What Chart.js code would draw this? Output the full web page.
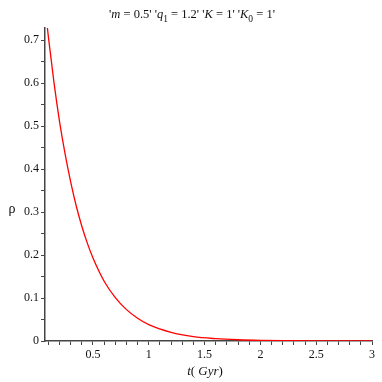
<!DOCTYPE html>
<html>
<head>
<meta charset="utf-8">
<script src="https://cdn.jsdelivr.net/npm/chart.js@4.4.1/dist/chart.umd.min.js"></script>
<style>
  html, body { margin: 0; padding: 0; background: #fff; }
  #wrap { width: 382px; height: 382px; }
</style>
</head>
<body>
<div id="wrap"><canvas id="rho"></canvas></div>
<script>
// values
var times = [0.07, 0.1, 0.15, 0.2, 0.25, 0.3, 0.35, 0.4, 0.45, 0.5, 0.6, 0.7, 0.8, 0.9, 1.0, 1.2, 1.4, 1.6, 1.8, 2.0, 2.25, 2.5, 2.75, 3.0];
var rhoValues = [0.78, 0.708, 0.602, 0.511, 0.435, 0.370, 0.314, 0.267, 0.227, 0.193, 0.139, 0.101, 0.073, 0.053, 0.038, 0.020, 0.010, 0.0054, 0.0029, 0.0015, 0.0007, 0.0003, 0.0001, 0.00006];
var xMajor = [0.5, 1, 1.5, 2, 2.5, 3];
var yMajor = [0, 0.1, 0.2, 0.3, 0.4, 0.5, 0.6, 0.7];

var serif = "'Liberation Serif', 'DejaVu Serif', serif";
var axisColor = "#444";

function isMajor(list, v) {
    return list.some(function (m) { return Math.abs(m - v) < 1e-6; });
}

// title and x label drawn as styled text runs
var titleRuns = [
    ["'", ""], ["m", "i"], [" = 0.5' '", ""], ["q", "i"], ["1", "s"], [" = 1.2' '", ""],
    ["K", "i"], [" = 1' '", ""], ["K", "i"], ["0", "s"], [" = 1'", ""]
];
var xLabelRuns = [["t", "i"], ["( ", ""], ["Gyr", "i"], [")", ""]];

function runFont(style, size) {
    if (style == "i") return "italic " + size + "px " + serif;
    if (style == "s") return (size - 3) + "px " + serif;
    return size + "px " + serif;
}

function drawRuns(ctx, runs, cx, baseline, size) {
    var total = 0;
    runs.forEach(function (r) { ctx.font = runFont(r[1], size); total += ctx.measureText(r[0]).width; });
    var x = cx - total / 2;
    runs.forEach(function (r) {
        ctx.font = runFont(r[1], size);
        ctx.fillText(r[0], x, r[1] == "s" ? baseline + 4 : baseline);
        x += ctx.measureText(r[0]).width;
    });
}

var textPlugin = {
    id: 'mapleText',
    afterDraw: function (chart) {
        var ctx = chart.ctx;
        var area = chart.chartArea;
        ctx.save();
        ctx.fillStyle = "#111";
        ctx.textBaseline = "alphabetic";
        ctx.textAlign = "left";
        drawRuns(ctx, titleRuns, 192, 18, 12.5);
        drawRuns(ctx, xLabelRuns, 205, 375, 13);
        ctx.font = "14px " + serif;
        ctx.textAlign = "center";
        ctx.fillText("\u03c1", 12, 213);
        ctx.restore();
    }
};

new Chart(document.getElementById("rho"), {
    type: 'line',
    data: {
        labels: times,
        datasets: [{
            data: times.map(function (t, i) { return { x: t, y: rhoValues[i] }; }),
            borderColor: "#ff0000",
            borderWidth: 1.3,
            pointRadius: 0,
            fill: false,
            cubicInterpolationMode: 'monotone'
        }]
    },
    options: {
        responsive: true,
        maintainAspectRatio: false,
        animation: false,
        layout: { padding: { top: 28, right: 10, left: 0, bottom: 0 } },
        plugins: {
            legend: { display: false },
            title: { display: false },
            tooltip: { enabled: false }
        },
        scales: {
            x: {
                type: 'linear',
                min: 0.07,
                max: 3,
                afterFit: function (s) { s.height = 41; },
                border: { color: axisColor, width: 1.5 },
                grid: { drawOnChartArea: false, tickLength: 4, color: axisColor, tickWidth: 1 },
                ticks: {
                    stepSize: 0.1,
                    includeBounds: false,
                    autoSkip: false,
                    maxRotation: 0,
                    padding: 3,
                    color: "#111",
                    font: { family: serif, size: 12 },
                    callback: function (v) { return isMajor(xMajor, v) ? String(Math.round(v * 10) / 10) : ""; }
                }
            },
            y: {
                min: 0,
                max: 0.728,
                afterFit: function (s) { s.width = 45; },
                border: { color: axisColor, width: 1.5 },
                grid: { drawOnChartArea: false, tickLength: 4, color: axisColor, tickWidth: 1 },
                ticks: {
                    stepSize: 0.05,
                    includeBounds: false,
                    autoSkip: false,
                    padding: 2,
                    color: "#111",
                    font: { family: serif, size: 12 },
                    callback: function (v) { return isMajor(yMajor, v) ? String(Math.round(v * 10) / 10) : ""; }
                }
            }
        }
    },
    plugins: [textPlugin]
});
</script>
</body>
</html>
